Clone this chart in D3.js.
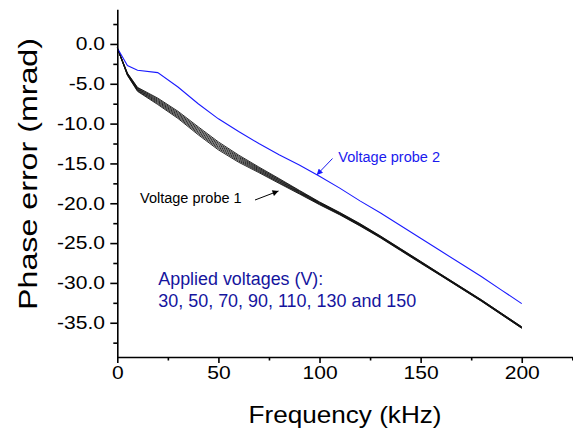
<!DOCTYPE html>
<html><head><meta charset="utf-8">
<script src="https://cdn.jsdelivr.net/npm/d3@7"></script>
<style>body{margin:0;background:#fff}svg{display:block}text{font-family:"Liberation Sans",Arial,sans-serif}</style>
</head><body><svg id="c" width="573" height="429"></svg>
<script>
// ---- data ----
const freq = [0,5,10,20,30,40,50,60,70,80,90,100,110,120,130,140,150,160,170,180,190,200];
const probe2 = [-0.5,-2.7,-3.3,-3.6,-5.4,-7.5,-9.4,-11.0,-12.5,-13.9,-15.2,-16.6,-18.1,-19.7,-21.2,-22.8,-24.4,-26.0,-27.6,-29.2,-30.9,-32.6];
const probe1_30V  = [-0.5,-3.65,-5.45,-6.80,-8.45,-10.40,-12.30,-13.95,-15.45,-16.90,-18.38,-19.83,-21.15,-22.55,-24.08,-25.68,-27.28,-28.90,-30.50,-32.10,-33.80,-35.50];
const probe1_50V  = [-0.5,-3.70,-5.53,-6.93,-8.60,-10.57,-12.47,-14.10,-15.57,-17.00,-18.45,-19.89,-21.20,-22.60,-24.12,-25.72,-27.32,-28.93,-30.53,-32.13,-33.83,-35.53];
const probe1_70V  = [-0.5,-3.75,-5.62,-7.07,-8.75,-10.73,-12.63,-14.25,-15.68,-17.10,-18.53,-19.94,-21.25,-22.65,-24.17,-25.77,-27.37,-28.97,-30.57,-32.17,-33.87,-35.57];
const probe1_90V  = [-0.5,-3.80,-5.70,-7.20,-8.90,-10.90,-12.80,-14.40,-15.80,-17.20,-18.60,-20.00,-21.30,-22.70,-24.20,-25.80,-27.40,-29.00,-30.60,-32.20,-33.90,-35.60];
const probe1_110V = [-0.5,-3.85,-5.78,-7.33,-9.05,-11.07,-12.97,-14.55,-15.92,-17.30,-18.68,-20.06,-21.35,-22.75,-24.24,-25.84,-27.44,-29.03,-30.63,-32.23,-33.93,-35.63];
const probe1_130V = [-0.5,-3.90,-5.87,-7.47,-9.20,-11.23,-13.13,-14.70,-16.03,-17.40,-18.75,-20.12,-21.40,-22.80,-24.28,-25.88,-27.48,-29.07,-30.67,-32.27,-33.97,-35.67];
const probe1_150V = [-0.5,-3.95,-5.95,-7.60,-9.35,-11.40,-13.30,-14.85,-16.15,-17.50,-18.83,-20.18,-21.45,-22.85,-24.33,-25.93,-27.53,-29.10,-30.70,-32.30,-34.00,-35.70];
const probe1 = [probe1_30V, probe1_50V, probe1_70V, probe1_90V, probe1_110V, probe1_130V, probe1_150V];
const xMajor = [0,50,100,150,200];
const xMinor = [25,75,125,175,225];
const yMajor = [0,-5,-10,-15,-20,-25,-30,-35];
const yMinor = [2.5,-2.5,-7.5,-12.5,-17.5,-22.5,-27.5,-32.5,-37.5];
const xTitle = "Frequency (kHz)";
const yTitle = "Phase error (mrad)";
const label1 = "Voltage probe 1";
const label2 = "Voltage probe 2";
const note = ["Applied voltages (V):", "30, 50, 70, 90, 110, 130 and 150"];

// ---- scales ----
const svg = d3.select("#c");
const x = d3.scaleLinear().domain([0,225]).range([117.3,572.3]);
const y = d3.scaleLinear().domain([-39.3,4.35]).range([357,9.3]);
const line = d3.line().x((d,i)=>x(freq[i])).y(d=>y(d));

// ---- lines ----
const g = svg.append("g");
probe1.forEach(s=>{
  g.append("path").attr("d", line(s)).attr("fill","none").attr("stroke","#111").attr("stroke-width",0.9);
});
g.append("path").attr("d", line(probe2)).attr("fill","none").attr("stroke","#1a1aff").attr("stroke-width",1.1);

// ---- axes ----
const sx = 1.17;
const ax = svg.append("g").attr("transform",`translate(0,${y(-39.3)})`);
ax.call(d3.axisBottom(x).tickValues(xMajor).tickSize(6).tickPadding(3).tickSizeOuter(0).tickFormat(d3.format("d")));
const axm = svg.append("g").attr("transform",`translate(0,${y(-39.3)})`);
axm.call(d3.axisBottom(x).tickValues(xMinor).tickSize(3.5).tickFormat(""));
axm.select(".domain").remove();
const ay = svg.append("g").attr("transform",`translate(${x(0)},0)`);
ay.call(d3.axisLeft(y).tickValues(yMajor).tickSize(7).tickPadding(3.5).tickSizeOuter(0).tickFormat(v=>v.toFixed(1)));
const aym = svg.append("g").attr("transform",`translate(${x(0)},0)`);
aym.call(d3.axisLeft(y).tickValues(yMinor).tickSize(4).tickFormat(""));
aym.select(".domain").remove();
svg.selectAll(".domain, .tick line").attr("stroke","#000").attr("stroke-width",1.6);
svg.selectAll(".tick text").attr("font-size",18).attr("fill","#000")
  .attr("font-family","'Liberation Sans', Arial, sans-serif")
  .attr("transform",`scale(${sx},1)`);

// ---- titles ----
svg.append("text").attr("x",345).attr("y",423).attr("text-anchor","middle")
  .attr("font-size",24).attr("textLength",193).attr("lengthAdjust","spacingAndGlyphs").text(xTitle);
svg.append("text").attr("transform","translate(37,174) rotate(-90)").attr("text-anchor","middle")
  .attr("font-size",26).attr("textLength",272).attr("lengthAdjust","spacingAndGlyphs").text(yTitle);

// ---- annotations ----
const defs = svg.append("defs");
[["ah1","#000"],["ah2","#1a1aff"]].forEach(([id,c])=>{
  defs.append("marker").attr("id",id).attr("viewBox","0 0 10 10").attr("refX",10).attr("refY",5)
    .attr("markerWidth",7).attr("markerHeight",6).attr("markerUnits","userSpaceOnUse").attr("orient","auto")
    .append("path").attr("d","M0,0L10,5L0,10Z").attr("fill",c);
});
svg.append("text").attr("x",140).attr("y",202.7).attr("font-size",14)
  .attr("textLength",101.7).attr("lengthAdjust","spacingAndGlyphs").attr("fill","#000").text(label1);
svg.append("line").attr("x1",255).attr("y1",200).attr("x2",278.5).attr("y2",191)
  .attr("stroke","#000").attr("stroke-width",1).attr("marker-end","url(#ah1)");
svg.append("text").attr("x",338.3).attr("y",161.7).attr("font-size",14)
  .attr("textLength",101.7).attr("lengthAdjust","spacingAndGlyphs").attr("fill","#1a1aee").text(label2);
svg.append("line").attr("x1",332.5).attr("y1",158.5).attr("x2",316.7).attr("y2",175)
  .attr("stroke","#1a1aee").attr("stroke-width",1).attr("marker-end","url(#ah2)");
svg.append("text").attr("x",158.3).attr("y",285).attr("font-size",18)
  .attr("textLength",165).attr("lengthAdjust","spacingAndGlyphs").attr("fill","#15159e").text(note[0]);
svg.append("text").attr("x",158.3).attr("y",307.3).attr("font-size",18)
  .attr("textLength",258).attr("lengthAdjust","spacingAndGlyphs").attr("fill","#15159e").text(note[1]);
</script></body></html>
